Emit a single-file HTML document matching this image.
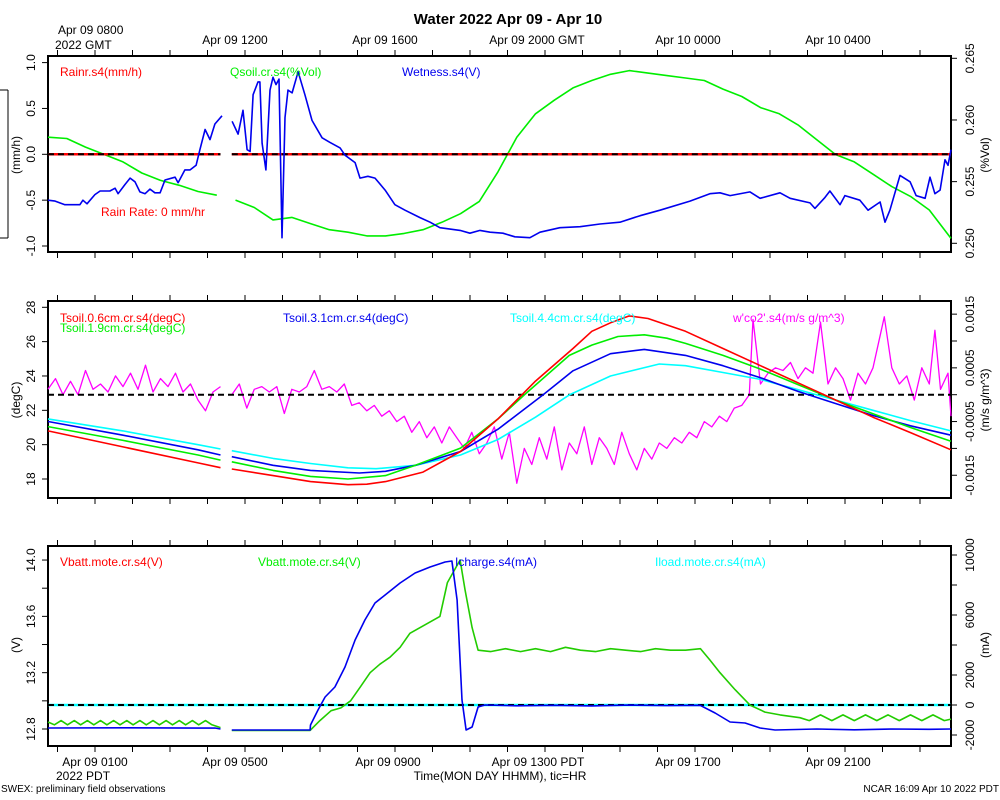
<!DOCTYPE html>
<html><head><meta charset="utf-8"><style>
html,body{margin:0;padding:0;background:#fff;}
svg{display:block;font-family:"Liberation Sans",sans-serif;}
</style></head><body>
<svg id="chart" width="1000" height="800" viewBox="0 0 1000 800" xmlns="http://www.w3.org/2000/svg">
<rect x="0" y="0" width="1000" height="800" fill="#fff"/>
<text x="508" y="24" font-size="15" font-weight="bold" text-anchor="middle">Water 2022 Apr 09 - Apr 10</text>
<g stroke="#000" stroke-width="1">
<line x1="0" y1="90" x2="8" y2="90"/><line x1="0" y1="238" x2="8" y2="238"/><line x1="8" y1="90" x2="8" y2="238"/>
</g>
<text x="58" y="34" font-size="12">Apr 09 0800</text>
<text x="55" y="49" font-size="12">2022 GMT</text>
<text x="235" y="44" font-size="12" text-anchor="middle">Apr 09 1200</text>
<text x="385" y="44" font-size="12" text-anchor="middle">Apr 09 1600</text>
<text x="537" y="44" font-size="12" text-anchor="middle">Apr 09 2000 GMT</text>
<text x="688" y="44" font-size="12" text-anchor="middle">Apr 10 0000</text>
<text x="838" y="44" font-size="12" text-anchor="middle">Apr 10 0400</text>
<text x="95" y="766" font-size="12" text-anchor="middle">Apr 09 0100</text>
<text x="56" y="780" font-size="12">2022 PDT</text>
<text x="235" y="766" font-size="12" text-anchor="middle">Apr 09 0500</text>
<text x="388" y="766" font-size="12" text-anchor="middle">Apr 09 0900</text>
<text x="538" y="766" font-size="12" text-anchor="middle">Apr 09 1300 PDT</text>
<text x="688" y="766" font-size="12" text-anchor="middle">Apr 09 1700</text>
<text x="838" y="766" font-size="12" text-anchor="middle">Apr 09 2100</text>
<text x="500" y="780" font-size="12" text-anchor="middle">Time(MON DAY HHMM), tic=HR</text>
<text x="1" y="792" font-size="10">SWEX: preliminary field observations</text>
<text x="999" y="792" font-size="10" text-anchor="end">NCAR 16:09 Apr 10 2022 PDT</text>
<g id="plots"></g>
</svg>
<script>
// ---------- data (time in hours from plot start, 23:45 PDT Apr 08) ----------
const rainT = [0, 4.6, null, 4.9, 24.08];
const rainV = [0, 0, null, 0, 0];
const qsoilT = [0,0.5,1,1.5,2,2.5,3,3.5,4,4.5,null,5,5.5,6,6.5,7,7.5,8,8.5,9,9.5,10,10.5,11,11.5,12,12.5,13,13.5,14,14.5,15,15.5,16,16.5,17,17.5,18,18.5,19,19.5,20,20.5,21,21.5,22,22.5,23,23.5,24.08];
const qsoilV = [0.2586,0.2585,0.2578,0.2572,0.2566,0.2557,0.2551,0.2547,0.2542,0.2539,null,0.2535,0.2529,0.2519,0.2521,0.2516,0.2511,0.2509,0.2506,0.2506,0.2508,0.2511,0.2517,0.2524,0.2534,0.2558,0.2586,0.2605,0.2616,0.2626,0.2632,0.2637,0.2640,0.2638,0.2636,0.2634,0.2632,0.2625,0.2619,0.2610,0.2605,0.2596,0.2584,0.2572,0.2566,0.2556,0.2546,0.2538,0.2527,0.2504];
const wetT = [0,0.19,0.45,0.85,0.93,1.04,1.25,1.39,1.65,1.79,1.87,2.05,2.19,2.32,2.45,2.59,2.72,2.85,2.99,3.12,3.39,3.47,3.65,3.79,3.95,4.05,4.19,4.32,4.45,4.64,null,4.91,5.07,5.2,5.31,5.39,5.47,5.6,5.65,5.71,5.81,5.92,6.0,6.08,6.16,6.24,6.32,6.4,6.51,6.67,6.85,7.04,7.31,7.52,7.79,7.92,8.19,8.32,8.53,8.72,8.99,9.25,9.52,9.92,10.19,10.45,10.99,11.25,11.52,11.79,12.13,12.45,12.85,13.12,13.65,14.19,14.72,15.25,15.79,16.32,17.12,17.65,17.92,18.19,18.72,18.99,19.52,19.79,20.32,20.45,20.72,20.85,21.12,21.25,21.65,21.87,22.19,22.32,22.45,22.72,22.99,23.15,23.39,23.52,23.65,23.79,23.92,24.0,24.08];
const wetV = [-0.50,-0.51,-0.55,-0.55,-0.50,-0.54,-0.44,-0.40,-0.40,-0.37,-0.43,-0.33,-0.26,-0.30,-0.41,-0.43,-0.38,-0.42,-0.42,-0.28,-0.25,-0.31,-0.17,-0.17,-0.12,0.05,0.27,0.16,0.33,0.42,null,0.36,0.22,0.48,0.05,0.03,0.65,0.79,0.79,0.12,-0.17,0.70,0.84,0.76,0.82,-0.91,0.40,0.70,0.67,0.90,0.65,0.37,0.18,0.13,0.07,-0.01,-0.09,-0.26,-0.24,-0.26,-0.39,-0.55,-0.61,-0.69,-0.74,-0.80,-0.83,-0.86,-0.83,-0.85,-0.86,-0.90,-0.91,-0.85,-0.80,-0.79,-0.76,-0.74,-0.67,-0.61,-0.51,-0.43,-0.42,-0.45,-0.41,-0.48,-0.42,-0.48,-0.53,-0.59,-0.47,-0.40,-0.55,-0.45,-0.50,-0.61,-0.52,-0.74,-0.61,-0.23,-0.30,-0.45,-0.48,-0.25,-0.43,-0.39,-0.06,-0.12,0.05];

const t06T = [0,2,4,4.6,null,4.9,6,7,8,8.5,9,10,11,12,12.5,13,14,14.5,15,15.5,16,17,18,19,20,21,22,23,24.08];
const t06V = [20.8,19.87,18.94,18.66,null,18.58,18.2,17.85,17.67,17.7,17.85,18.4,19.6,21.5,22.6,23.7,25.6,26.6,27.1,27.5,27.35,26.6,25.6,24.6,23.6,22.6,21.6,20.7,19.7];
const t19T = [0,2,4,4.6,null,4.9,6,7,8,9,9.8,11,12,12.7,13.9,14.5,15.2,15.9,16.5,17,18,19,20,21,22,23,24.08];
const t19V = [21.05,20.25,19.4,19.1,null,19.0,18.5,18.15,18.0,18.2,18.8,19.8,21.5,22.9,25.2,25.8,26.3,26.4,26.2,25.9,25.2,24.4,23.5,22.6,21.8,21.0,20.2];
const t31T = [0,2,4,4.6,null,4.9,6,7,8.3,9,9.8,11,12,13.2,14,15,15.9,17,18,19,20,21,22,23,24.08];
const t31V = [21.35,20.55,19.7,19.4,null,19.3,18.8,18.5,18.35,18.45,18.8,19.6,20.9,22.9,24.3,25.3,25.55,25.2,24.6,23.9,23.1,22.4,21.7,21.1,20.55];
const t44T = [0,2,4,4.6,null,4.9,6,7,8,8.75,9.8,11,12,13,13.9,15,16.3,17,18,19,20,21,22,23,24.08];
const t44V = [21.5,20.8,20.0,19.75,null,19.65,19.2,18.9,18.65,18.6,18.8,19.4,20.3,21.6,22.9,24.0,24.7,24.6,24.2,23.8,23.2,22.6,22.0,21.4,20.8];
// w'co2' in units of 1e-4 m/s g/m^3
const wcoT = [0,0.2,0.4,0.6,0.8,1.0,1.2,1.4,1.6,1.8,2.0,2.2,2.4,2.6,2.8,3.0,3.2,3.4,3.6,3.8,4.0,4.2,4.4,4.6,null,4.9,5.1,5.3,5.5,5.7,5.9,6.1,6.3,6.5,6.7,6.9,7.1,7.3,7.5,7.7,7.9,8.1,8.3,8.5,8.7,8.9,9.1,9.3,9.5,9.7,9.9,10.1,10.3,10.5,10.7,10.9,11.1,11.3,11.5,11.7,11.9,12.1,12.3,12.5,12.7,12.9,13.1,13.3,13.5,13.7,13.9,14.1,14.3,14.5,14.7,14.9,15.1,15.3,15.5,15.7,15.9,16.1,16.3,16.5,16.7,16.9,17.1,17.3,17.5,17.7,17.9,18.1,18.3,18.5,18.7,18.8,19.0,19.2,19.4,19.6,19.8,20.0,20.2,20.4,20.6,20.8,21.0,21.2,21.4,21.6,21.8,22.0,22.3,22.5,22.7,22.9,23.1,23.3,23.5,23.65,23.8,24.0,24.08];
const wcoV = [1,3,0,2.5,0,4.5,1,2,0.5,3.5,1.5,4,1,5.5,0.5,3,1.5,4,0.5,2,-1,-3,0.5,1.5,null,0,2,-2.5,1,1.5,0.5,1.5,-3.5,1,0.5,1.5,4.5,1,1.5,0.5,2,-2,-1.5,-3,-2,-4,-3,-5,-4,-7,-5,-8,-6,-9,-6,-8,-10,-7,-11,-9,-6,-12,-7,-16.5,-10,-13,-8,-12,-6,-14,-9,-11,-6,-13,-8,-10,-13,-7,-11,-14,-10,-12,-9,-10,-8,-9,-7,-8,-5,-6,-4,-5,-2.5,-2,0,14,2,4,5,4.5,6,3,5,4,13.5,2,5,3,-1,4,2,5,14.5,5,2,3.5,-1,5,2,12,1,4,-4];

const vbT = [0,0.17,0.35,0.52,0.7,0.87,1.05,1.22,1.4,1.57,1.75,1.92,2.1,2.27,2.45,2.62,2.8,2.97,3.15,3.32,3.5,3.67,3.85,4.02,4.2,4.37,4.6,null,4.9,6.99,7.25,7.55,7.81,8.07,8.33,8.59,8.85,9.12,9.39,9.65,10.45,10.65,10.99,11.12,11.31,11.47,11.8,12.2,12.6,13.0,13.4,13.8,14.2,14.6,15.0,15.4,15.8,16.2,16.6,17.0,17.4,17.65,17.92,18.32,18.72,19.12,19.52,20.05,20.3,20.6,20.9,21.2,21.5,21.8,22.1,22.4,22.7,23.0,23.3,23.6,23.9,24.08];
const vbV = [12.85,12.83,12.86,12.83,12.86,12.83,12.86,12.83,12.86,12.83,12.86,12.83,12.86,12.83,12.86,12.83,12.86,12.83,12.86,12.83,12.86,12.83,12.86,12.83,12.86,12.83,12.81,null,12.79,12.79,12.86,12.93,12.95,13.0,13.1,13.2,13.26,13.31,13.38,13.48,13.6,13.84,14.0,13.79,13.52,13.36,13.35,13.37,13.35,13.37,13.35,13.38,13.36,13.35,13.37,13.36,13.35,13.37,13.36,13.36,13.37,13.29,13.2,13.08,12.97,12.92,12.9,12.88,12.86,12.90,12.86,12.90,12.86,12.90,12.86,12.90,12.86,12.90,12.86,12.90,12.86,12.87];
const icT = [0,2,4,4.45,4.6,null,4.9,6.99,7.0,7.2,7.39,7.65,7.92,8.19,8.45,8.72,8.99,9.39,9.79,10.19,10.59,10.77,10.91,11.04,11.15,11.31,11.47,11.65,12.5,13.5,14.5,15.5,16.5,17.39,17.79,18.19,18.59,18.99,19.39,20.5,21.5,22.5,23.5,24.08];
const icV = [-1530,-1520,-1540,-1530,-1600,null,-1670,-1670,-1330,-330,530,1200,2530,4330,5670,6800,7330,8130,8800,9200,9530,9600,7000,330,-1670,-1470,-130,0,-50,-20,-60,-10,-40,-20,-530,-1130,-1200,-1530,-1670,-1600,-1650,-1600,-1620,-1600];
const iloadT = [0, 24.08];
const iloadV = [0, 0];

// ---------- geometry ----------
const X0 = 48, X1 = 951, PXH = 37.5;
const tx = t => X0 + t * PXH;
const yTopL = v => 154.3 - v * 91.7;
const yTopR = q => 243.3 - (q - 0.25) * 12333;
const yMidL = T => 479 - (T - 18) * 17.17;
const yMidR = w => 394.7 - w * 5.37;
const yBotL = V => 729 - (V - 12.8) * 140.8;
const yBotR = I => 705 - I * 0.015;

const NS = 'http://www.w3.org/2000/svg';
const root = document.getElementById('plots');
function mk(tag, attrs, parent) {
  const e = document.createElementNS(NS, tag);
  for (const k in attrs) e.setAttribute(k, attrs[k]);
  (parent || root).appendChild(e);
  return e;
}
function pathD(ts, vs, yf) {
  let d = '', pen = false;
  for (let i = 0; i < ts.length; i++) {
    if (ts[i] === null || vs[i] === null) { pen = false; continue; }
    d += (pen ? 'L' : 'M') + tx(ts[i]).toFixed(1) + ',' + yf(vs[i]).toFixed(1);
    pen = true;
  }
  return d;
}
function series(name, ts, vs, yf, color, extra) {
  const p = mk('path', Object.assign({d: pathD(ts, vs, yf), fill: 'none', stroke: color, 'stroke-width': 1.6, 'stroke-linejoin': 'round'}, extra || {}));
  
  
  return p;
}
function label(name, x, y, txt, color, size, rot, anchor) {
  const e = mk('text', {x: x, y: y, fill: color || '#000', 'font-size': size || 12, 'text-anchor': anchor || 'start'});
  if (rot) e.setAttribute('transform', 'rotate(-90 ' + x + ' ' + y + ')');
  e.textContent = txt;
  
  
  return e;
}
function frame(name, y0, y1, topTicks, botTicks) {
  const g = mk('g', {stroke: '#000', 'stroke-width': 1});
  
  
  for (let k = -1; k < 24; k++) {
    const x = 95 + 37.5 * k;
    if (x < X0 || x > X1) continue;
    if (topTicks) mk('line', {x1: x, x2: x, y1: y0, y2: y0 - 6}, g);
    if (botTicks) mk('line', {x1: x, x2: x, y1: y1, y2: y1 + 6}, g);
  }
  const r = mk('rect', {x: X0, y: y0, width: X1 - X0, height: y1 - y0, fill: 'none', stroke: '#000', 'stroke-width': 2});
  
  
}
function yAxis(name, vals, yf, side, labs, fmt) {
  const g = mk('g', {stroke: '#000', 'stroke-width': 1});
  
  
  vals.forEach(v => {
    const y = yf(v);
    if (side === 'L') mk('line', {x1: X0 - 6, x2: X0, y1: y, y2: y}, g);
    else mk('line', {x1: X1, x2: X1 + 6, y1: y, y2: y}, g);
  });
  labs.forEach(v => {
    const y = yf(v);
    const x = side === 'L' ? 35 : 974;
    label(name + '-label', x, y, fmt(v), '#000', 12, true, 'middle');
  });
}
function dashed(name, y) {
  const l = mk('line', {x1: X0, x2: X1, y1: y, y2: y, stroke: '#000', 'stroke-width': 2, 'stroke-dasharray': '6,4'});
  
  
}

// ---------- top panel ----------
const topTickL = [-1, -0.5, 0, 0.5, 1];
const topTickR = [0.25, 0.255, 0.26, 0.265];
frame('top-panel', 56, 252, true, true);
yAxis('top-left-axis', topTickL, yTopL, 'L', topTickL, v => v.toFixed(1));
yAxis('top-right-axis', topTickR, yTopR, 'R', topTickR, v => v.toFixed(3));
label('top-left-axis-title', 20, 155, '(mm/h)', '#000', 12, true, 'middle');
label('top-right-axis-title', 989, 155, '(%Vol)', '#000', 12, true, 'middle');
series('qsoil-line', qsoilT, qsoilV, yTopR, '#00ee00');
series('rain-line', rainT, rainV, yTopL, '#ff0000', {'stroke-width': 2.5});
const dz = mk('path', {d: pathD(rainT, rainV, yTopL), fill: 'none', stroke: '#000', 'stroke-width': 2, 'stroke-dasharray': '6,4'});


series('wetness-line', wetT, wetV, yTopL, '#0000ee');
label('legend-rainr', 60, 76, 'Rainr.s4(mm/h)', '#ff0000');
label('legend-qsoil', 230, 76, 'Qsoil.cr.s4(%Vol)', '#00ee00');
label('legend-wetness', 402, 76, 'Wetness.s4(V)', '#0000ee');
label('rain-rate-note', 101, 216, 'Rain Rate: 0 mm/hr', '#ff0000');

// ---------- middle panel ----------
const midTickL = [18, 20, 22, 24, 26, 28];
const midTickR = [-15, -10, -5, 0, 5, 10, 15];
const midLabR = [-15, -5, 5, 15];
frame('middle-panel', 301, 498, true, true);
yAxis('middle-left-axis', midTickL, yMidL, 'L', midTickL, v => String(v));
yAxis('middle-right-axis', midTickR, yMidR, 'R', midLabR, v => (v / 10000).toFixed(4));
label('middle-left-axis-title', 20, 400, '(degC)', '#000', 12, true, 'middle');
label('middle-right-axis-title', 989, 400, '(m/s g/m^3)', '#000', 12, true, 'middle');
series('wco2-line', wcoT, wcoV, yMidR, '#ff00ff', {'stroke-width': 1.3});
dashed('middle-zero-line', yMidR(0));
series('tsoil-4.4cm-line', t44T, t44V, yMidL, '#00ffff');
series('tsoil-3.1cm-line', t31T, t31V, yMidL, '#0000ee');
series('tsoil-1.9cm-line', t19T, t19V, yMidL, '#00ee00');
series('tsoil-0.6cm-line', t06T, t06V, yMidL, '#ff0000');
label('legend-tsoil-0.6', 60, 322, 'Tsoil.0.6cm.cr.s4(degC)', '#ff0000');
label('legend-tsoil-1.9', 60, 332, 'Tsoil.1.9cm.cr.s4(degC)', '#00ee00');
label('legend-tsoil-3.1', 283, 322, 'Tsoil.3.1cm.cr.s4(degC)', '#0000ee');
label('legend-tsoil-4.4', 510, 322, 'Tsoil.4.4cm.cr.s4(degC)', '#00ffff');
label('legend-wco2', 733, 322, "w'co2'.s4(m/s g/m^3)", '#ff00ff');

// ---------- bottom panel ----------
const botTickL = [12.8, 13.0, 13.2, 13.4, 13.6, 13.8, 14.0];
const botLabL = [12.8, 13.2, 13.6, 14.0];
const botTickR = [-2000, 0, 2000, 4000, 6000, 8000, 10000];
const botLabR = [-2000, 0, 2000, 6000, 10000];
frame('bottom-panel', 546, 746, true, true);
yAxis('bottom-left-axis', botTickL, yBotL, 'L', botLabL, v => v.toFixed(1));
yAxis('bottom-right-axis', botTickR, yBotR, 'R', botLabR, v => String(v));
label('bottom-left-axis-title', 20, 645, '(V)', '#000', 12, true, 'middle');
label('bottom-right-axis-title', 989, 645, '(mA)', '#000', 12, true, 'middle');
series('iload-line', iloadT, iloadV, yBotR, '#00ffff', {'stroke-width': 2.5});
dashed('bottom-zero-line', yBotR(0));
series('vbatt-line', vbT, vbV, yBotL, '#22cc00');
series('icharge-line', icT, icV, yBotR, '#0000ee');
label('legend-vbatt-red', 60, 566, 'Vbatt.mote.cr.s4(V)', '#ff0000');
label('legend-vbatt-green', 258, 566, 'Vbatt.mote.cr.s4(V)', '#00ee00');
label('legend-icharge', 455, 566, 'Icharge.s4(mA)', '#0000ee');
label('legend-iload', 655, 566, 'Iload.mote.cr.s4(mA)', '#00ffff');
</script>
</body></html>
